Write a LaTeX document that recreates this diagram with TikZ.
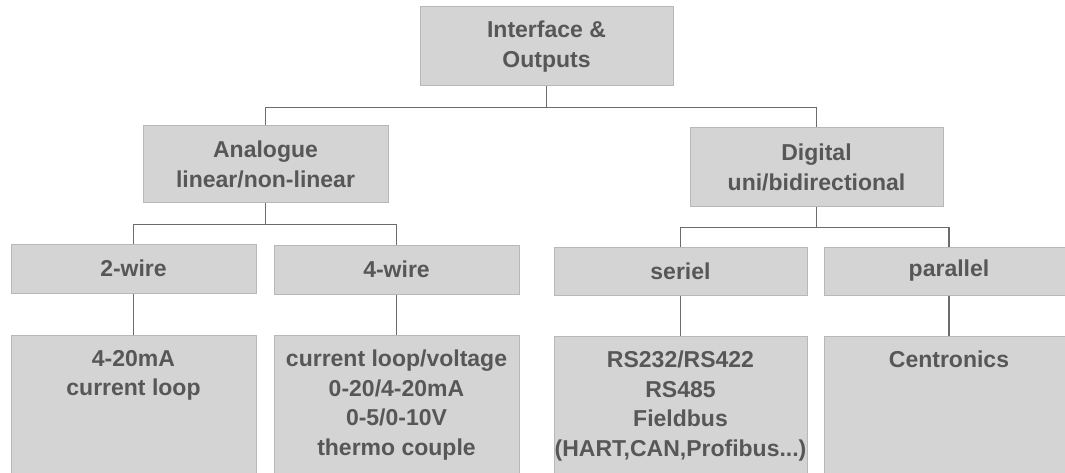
\documentclass[tikz,border=0pt]{standalone}
\usepackage{fontspec}
\setmainfont{Liberation Sans}
\begin{document}
\begin{tikzpicture}[x=1pt, y=-1pt,
  caja/.style={rectangle, fill=cajafondo, draw=cajaborde, line width=1pt,
    inner sep=0pt, text=textogris, align=center,
    font=\bfseries\fontsize{23}{29.5}\selectfont},
  texto/.style={inner sep=0pt, text=textogris, align=center, anchor=north,
    font=\bfseries\fontsize{23}{29.5}\selectfont},
  enlace/.style={draw=lineagris, line width=1.8pt}]
  \colorlet{cajafondo}{black!17}
  \colorlet{cajaborde}{black!28}
  \colorlet{textogris}{black!66}
  \colorlet{lineagris}{black!58}
  \useasboundingbox (0,0) rectangle (1065,473);
  \clip (0,0) rectangle (1065,473);
  % Nivel 1
  \node[caja, minimum width=253pt, minimum height=79pt] (interfaz) at (546.5,46.5)
    {Interface \&\\Outputs};
  % Nivel 2
  \node[caja, minimum width=245pt, minimum height=77pt] (analog) at (265.5,164.5)
    {Analogue\\linear/non-linear};
  \node[caja, minimum width=253pt, minimum height=79pt] (digital) at (816.5,167.5)
    {Digital\\uni/bidirectional};
  % Nivel 3
  \node[caja, minimum width=245pt, minimum height=49pt] (dos) at (133.5,268.5) {2-wire};
  \node[caja, minimum width=245pt, minimum height=49pt] (cuatro) at (396.5,269.5) {4-wire};
  \node[caja, minimum width=253pt, minimum height=48pt] (serie) at (680.5,271) {seriel};
  \node[caja, minimum width=250pt, minimum height=48pt] (paralelo) at (949,271) {parallel};
  % Nivel 4 (las cajas siguen por debajo del borde)
  \node[caja, minimum width=245pt, minimum height=150pt, anchor=north] (dosB) at (133.5,335) {};
  \node[caja, minimum width=245pt, minimum height=150pt, anchor=north] (cuatroB) at (396.5,335) {};
  \node[caja, minimum width=253pt, minimum height=150pt, anchor=north] (serieB) at (680.5,336) {};
  \node[caja, minimum width=250pt, minimum height=150pt, anchor=north] (paraleloB) at (949,336) {};
  \node[texto] (dosT) at ([yshift=-15pt]dosB.north) {4-20mA\\current loop};
  \node[texto] (cuatroT) at ([yshift=-15pt]cuatroB.north)
    {current loop/voltage\\0-20/4-20mA\\0-5/0-10V\\thermo couple};
  \node[texto] (serieT) at ([yshift=-15pt]serieB.north)
    {RS232/RS422\\RS485\\Fieldbus\\(HART,CAN,Profibus...)};
  \node[texto] (paraleloT) at ([yshift=-15pt]paraleloB.north) {Centronics};
  % Conexiones
  \draw[enlace] (interfaz.south) -- ++(0,21) coordinate (j1);
  \draw[enlace] (j1) -| (analog.north);
  \draw[enlace] (j1) -| (digital.north);
  \draw[enlace] (analog.south) -- ++(0,21) coordinate (j2);
  \draw[enlace] (j2) -| (dos.north);
  \draw[enlace] (j2) -| (cuatro.north);
  \draw[enlace] (digital.south) -- ++(0,20) coordinate (j3);
  \draw[enlace] (j3) -| (serie.north);
  \draw[enlace] (j3) -| (paralelo.north);
  \draw[enlace] (dos.south) -- (dosB.north);
  \draw[enlace] (cuatro.south) -- (cuatroB.north);
  \draw[enlace] (serie.south) -- (serieB.north);
  \draw[enlace] (paralelo.south) -- (paraleloB.north);
\end{tikzpicture}
\end{document}
